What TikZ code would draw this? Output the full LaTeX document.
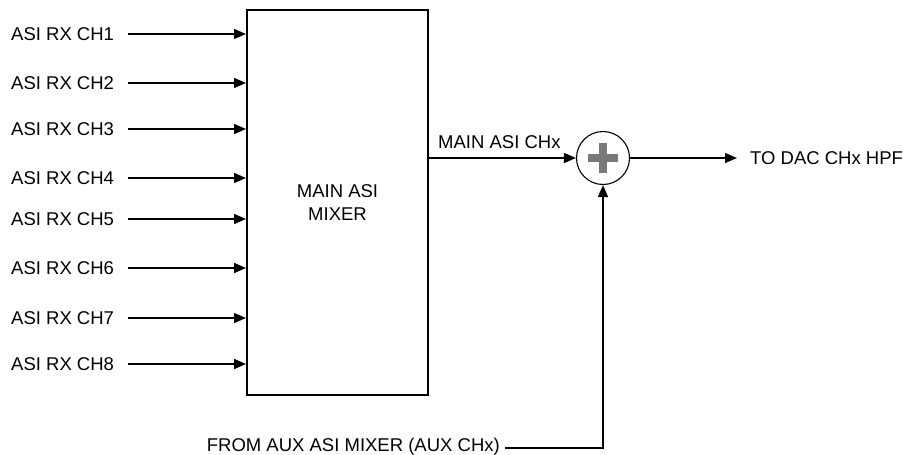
\documentclass[tikz,border=0pt]{standalone}
\usepackage{fontspec}
\setmainfont{Liberation Sans}
\usetikzlibrary{arrows.meta}
\begin{document}
\begin{tikzpicture}[x=1pt,y=-1pt,
  lbl/.style={font=\fontsize{18.5}{22}\selectfont,inner sep=0pt},
  conn/.style={line width=1.4pt,-{Triangle[length=12pt,width=10pt]}},
  wire/.style={line width=1.4pt}]
\useasboundingbox (0,0) rectangle (903,455);
\node[draw,line width=2.6pt,minimum width=181pt,minimum height=385pt,inner sep=0pt,align=center,font=\fontsize{18.5}{23}\selectfont] (mix) at (337.5,202.5) {MAIN ASI\\MIXER};
\foreach \i/\y in {1/34,2/83,3/129,4/178,5/219,6/268,7/318,8/364}{
  \node[lbl,anchor=west] (in\i) at (11,\y) {ASI RX CH\i};
  \coordinate (s\i) at (128,\y);
  \coordinate (e\i) at (246,\y);
  \draw[conn] (s\i) -- (e\i);
}
\node[draw,circle,minimum size=53pt,inner sep=0pt,line width=1.1pt] (sum) at (603,158) {};
\draw[line width=7.5pt,gray!95!black] ([xshift=-15pt]sum.center) -- ([xshift=15pt]sum.center);
\draw[line width=7.5pt,gray!95!black] ([yshift=-15pt]sum.center) -- ([yshift=15pt]sum.center);
\coordinate (mo) at (mix.east |- sum.west);
\draw[conn] (mo) -- (sum.west);
\node[lbl,anchor=base west] (mlbl) at (438,148) {MAIN ASI CHx};
\node[lbl,anchor=west] (dac) at (750,158) {TO DAC CHx HPF};
\coordinate (dacin) at ([xshift=-13pt]dac.west |- sum.east);
\draw[conn] (sum.east) -- (dacin);
\node[lbl,anchor=east] (aux) at (500,447) {FROM AUX ASI MIXER (AUX CHx)};
\coordinate (ae) at (603,448);
\draw[conn] ([xshift=5pt]aux.east |- ae) -- (ae) -- (sum.south);
\end{tikzpicture}
\end{document}
